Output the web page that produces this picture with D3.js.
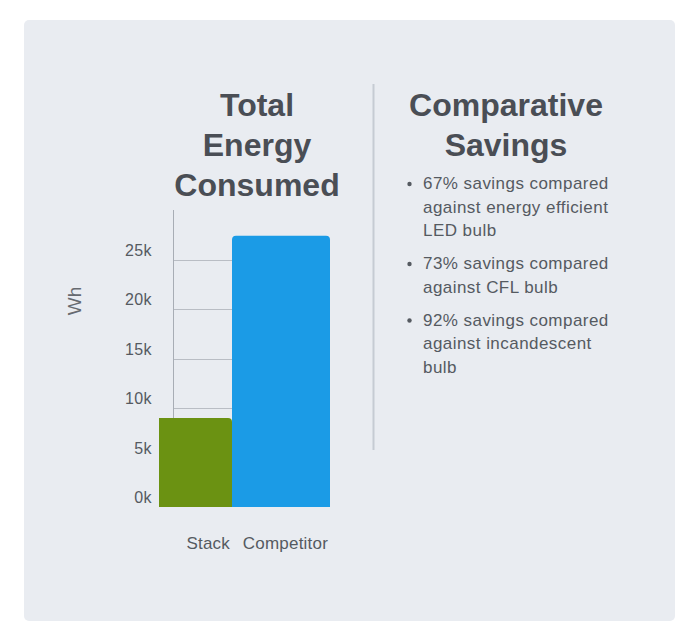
<!DOCTYPE html>
<html>
<head>
<meta charset="utf-8">
<script src="https://cdn.jsdelivr.net/npm/d3@7/dist/d3.min.js"></script>
<style>
  html, body { margin: 0; padding: 0; background: #ffffff; }
  svg { display: block; }
  text { font-family: "Liberation Sans", Arial, sans-serif; }
</style>
</head>
<body>
<svg id="chart" width="700" height="639"></svg>
<script>
// ---- data ----
const categories = ["Stack", "Competitor"];
const energyValues = [9000, 27400];
const barColors = ["#6b9212", "#1b9be6"];
const yTickValues = [0, 5000, 10000, 15000, 20000, 25000];
const yTickLabels = ["0k", "5k", "10k", "15k", "20k", "25k"];
const chartTitle = ["Total", "Energy", "Consumed"];
const yAxisTitle = "Wh";
const savingsTitle = ["Comparative", "Savings"];
const savingsItems = [
  ["67% savings compared", "against energy efficient", "LED bulb"],
  ["73% savings compared", "against CFL bulb"],
  ["92% savings compared", "against incandescent", "bulb"]
];

// ---- layout ----
const svg = d3.select("#chart");
const textColor = "#555a61";
const titleColor = "#4a4e55";

svg.append("rect")
  .attr("x", 24).attr("y", 20).attr("width", 651).attr("height", 601)
  .attr("rx", 5).attr("fill", "#e9ecf1");

const plotTop = 210, plotBottom = 507, axisX = 173;
const y = d3.scaleLinear().domain([0, 30000]).range([plotBottom, plotTop]);
const x = d3.scaleBand().domain(categories).range([134, 330]).paddingInner(0).paddingOuter(0);

// clip for plot area
svg.append("clipPath").attr("id", "plotclip")
  .append("rect").attr("x", 159).attr("y", 0).attr("width", 400).attr("height", 639);

// gridlines
svg.append("g").selectAll("line").data(yTickValues.filter(v => v > 0)).join("line")
  .attr("x1", axisX).attr("x2", 330)
  .attr("y1", d => Math.round(y(d)) + 0.5).attr("y2", d => Math.round(y(d)) + 0.5)
  .attr("stroke", "#b9bdc4").attr("stroke-width", 1);

// y axis line
svg.append("line")
  .attr("x1", axisX + 0.5).attr("x2", axisX + 0.5)
  .attr("y1", y(30000)).attr("y2", plotBottom)
  .attr("stroke", "#a8adb5").attr("stroke-width", 1);

// bars with rounded top corners
const r = 4;
function barPath(x0, w, yTop, yBot) {
  return `M${x0},${yBot} L${x0},${yTop + r} Q${x0},${yTop} ${x0 + r},${yTop} L${x0 + w - r},${yTop} Q${x0 + w},${yTop} ${x0 + w},${yTop + r} L${x0 + w},${yBot} Z`;
}
svg.append("g").attr("clip-path", "url(#plotclip)")
  .selectAll("path").data(categories).join("path")
  .attr("d", (c, i) => barPath(x(c), x.bandwidth(), y(energyValues[i]), y(0)))
  .attr("fill", (c, i) => barColors[i]);

// y tick labels
svg.append("g").selectAll("text").data(yTickValues).join("text")
  .attr("x", 152).attr("y", d => y(d) - 4)
  .attr("text-anchor", "end")
  .attr("font-size", 16).attr("letter-spacing", 0.4).attr("fill", textColor)
  .text((d, i) => yTickLabels[i]);

// y axis title
svg.append("text")
  .attr("transform", "translate(81,301) rotate(-90)")
  .attr("text-anchor", "middle")
  .attr("font-size", 19).attr("fill", "#666a70")
  .text(yAxisTitle);

// x labels
svg.append("g").selectAll("text").data(categories).join("text")
  .attr("x", c => x(c) + x.bandwidth() - 2).attr("y", 549)
  .attr("text-anchor", "end")
  .attr("font-size", 17).attr("letter-spacing", 0.2).attr("fill", textColor)
  .text(c => c);

// chart title
svg.append("g").selectAll("text").data(chartTitle).join("text")
  .attr("x", 257).attr("y", (d, i) => 116 + i * 40)
  .attr("text-anchor", "middle")
  .attr("font-size", 32).attr("font-weight", "bold").attr("fill", titleColor)
  .text(d => d);

// divider
svg.append("line")
  .attr("x1", 373.5).attr("x2", 373.5).attr("y1", 84).attr("y2", 450)
  .attr("stroke", "#c6cbd3").attr("stroke-width", 2);

// savings title
svg.append("g").selectAll("text").data(savingsTitle).join("text")
  .attr("x", 506).attr("y", (d, i) => 116 + i * 40)
  .attr("text-anchor", "middle")
  .attr("font-size", 32).attr("font-weight", "bold").attr("fill", titleColor)
  .text(d => d);

// savings bullets
const lineH = 23.5, itemGap = 9.5;
let cy = 189;
const list = svg.append("g");
savingsItems.forEach(lines => {
  list.append("circle").attr("cx", 409.5).attr("cy", cy - 5).attr("r", 2.2).attr("fill", textColor);
  lines.forEach((ln, j) => {
    list.append("text").attr("x", 423).attr("y", cy + j * lineH)
      .attr("font-size", 17).attr("letter-spacing", 0.45).attr("fill", textColor).text(ln);
  });
  cy += lines.length * lineH + itemGap;
});
</script>
</body>
</html>
